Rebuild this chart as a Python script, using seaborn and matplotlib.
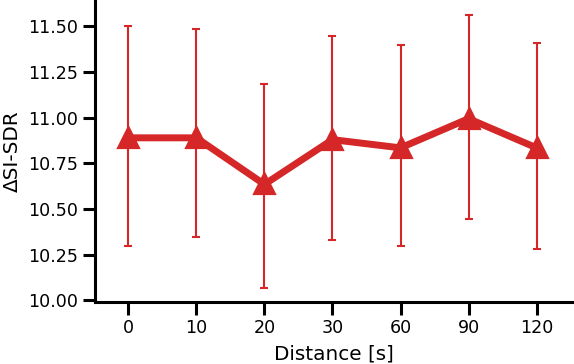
import matplotlib
matplotlib.use("Agg")
import matplotlib.pyplot as plt
import seaborn as sns
import numpy as np

distances = ["0", "10", "20", "30", "60", "90", "120"]
means = [10.89, 10.89, 10.635, 10.88, 10.835, 10.995, 10.835]
upper = [11.50, 11.487, 11.187, 11.45, 11.397, 11.563, 11.41]
lower = [10.30, 10.344, 10.066, 10.333, 10.298, 10.448, 10.28]

sns.set_theme(style="ticks")
plt.rcParams['font.family'] = ['DejaVu Sans']
plt.rcParams['axes.labelcolor'] = 'black'
plt.rcParams['text.color'] = 'black'
color = "#d62728"

fig, ax = plt.subplots(figsize=(5.74, 3.64), dpi=100)
fig.subplots_adjust(left=0.1655, right=0.9965, top=1.0, bottom=0.17)

sns.pointplot(x=distances, y=means, markers="^", color=color, errorbar=None,
              linewidth=5, markersize=11, ax=ax)

pos = np.arange(len(distances))
m = np.array(means)
yerr = np.vstack([m - np.array(lower), np.array(upper) - m])
ax.errorbar(pos, m, yerr=yerr, fmt="none", ecolor=color, elinewidth=1.5,
            capsize=3, capthick=1.5, zorder=1)

ax.set_ylim(9.99, 11.645)
ax.set_xlim(-0.49, 6.52)
ax.set_yticks([10.0, 10.25, 10.5, 10.75, 11.0, 11.25, 11.5])
ax.set_yticklabels([f"{v:.2f}" for v in [10.0, 10.25, 10.5, 10.75, 11.0, 11.25, 11.5]])
ax.set_xlabel("Distance [s]", fontsize=14.4, labelpad=5, color="black")
ax.set_ylabel("ΔSI-SDR", fontsize=14.4, color="black")
ax.tick_params(axis="both", labelsize=12.6, length=9, width=2.2, color="black", labelcolor="black")
for s in ["left", "bottom"]:
    ax.spines[s].set_linewidth(2.2)
    ax.spines[s].set_color("black")
sns.despine(ax=ax)

fig.savefig("out.png", dpi=100)
